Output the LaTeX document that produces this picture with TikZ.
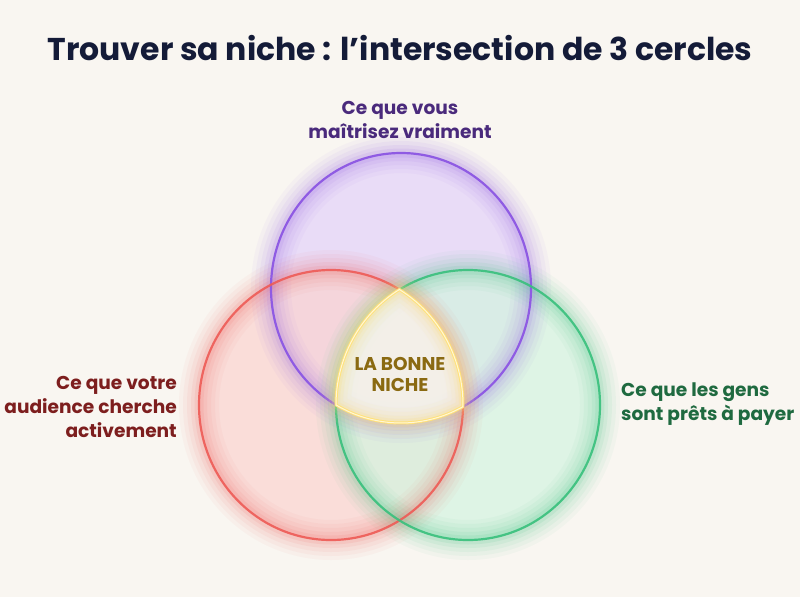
\documentclass[tikz,border=0pt]{standalone}
\usepackage{fontspec}
\setmainfont{Poppins}
\definecolor{bgc}{HTML}{F9F6F1}
\definecolor{titlec}{HTML}{141B38}
\definecolor{pstroke}{HTML}{8F5BE3}
\definecolor{pfill}{HTML}{E4D4FA}
\definecolor{ptext}{HTML}{4A2A7C}
\definecolor{rstroke}{HTML}{EE5B56}
\definecolor{rfill}{HTML}{FBD3D0}
\definecolor{rtext}{HTML}{7D1E1E}
\definecolor{gstroke}{HTML}{38C07C}
\definecolor{gfill}{HTML}{D3F4E0}
\definecolor{gtext}{HTML}{1F6A40}
\definecolor{ystroke}{HTML}{FFE27A}
\definecolor{ytext}{HTML}{8A6A12}
\definecolor{yfill}{HTML}{F7F1EA}
\newcommand\reulpath{(399.5,289.6) arc[start angle=-58.74, end angle=0.70, x radius=132, y radius=135] arc[start angle=61.52, end angle=120, x radius=130, y radius=135] arc[start angle=179.96, end angle=238.74, x radius=132, y radius=135] -- cycle}
\begin{document}
\begin{tikzpicture}[x=1pt,y=-1pt,
  lbl/.style={font=\bfseries\fontsize{18.6}{24}\selectfont, inner sep=0pt},
  pshape/.style={x radius=130, y radius=135},
  rgshape/.style={x radius=132, y radius=135}]
\fill[bgc] (0,0) rectangle (800,597);
\useasboundingbox (0,0) rectangle (800,597);
% fills
\fill[pfill, fill opacity=0.75] (401,288) ellipse[pshape];
\fill[rfill, fill opacity=0.7] (331,405) ellipse[rgshape];
\fill[gfill, fill opacity=0.7] (468,405) ellipse[rgshape];
% glows
\foreach \w/\o in {40/0.04, 32/0.05, 24/0.06, 16/0.08, 9/0.10}{
  \draw[pstroke, line width=\w pt, opacity=\o] (401,288) ellipse[pshape];
  \draw[rstroke, line width=\w pt, opacity=\o] (331,405) ellipse[rgshape];
  \draw[gstroke, line width=\w pt, opacity=\o] (468,405) ellipse[rgshape];
}
% strokes
\draw[pstroke, line width=2.2pt] (401,288) ellipse[pshape];
\draw[rstroke, line width=2.2pt, opacity=0.9] (331,405) ellipse[rgshape];
\draw[gstroke, line width=2.2pt, opacity=0.9] (468,405) ellipse[rgshape];
% centre region
\fill[yfill, fill opacity=0.85] \reulpath;
\foreach \w/\o in {30/0.06, 22/0.08, 14/0.12, 8/0.18}{
  \draw[ystroke, line width=\w pt, opacity=\o, line join=round] \reulpath;
}
\draw[ystroke, line width=3pt, line join=round] \reulpath;
\draw[white, line width=1pt, opacity=0.7, line join=round] \reulpath;
% texts
\node[font=\bfseries\fontsize{31.5}{36}\selectfont, text=titlec, inner sep=0pt] (title) at (400,48) {Trouver sa niche : l’intersection de 3 cercles};
\node[lbl, text=ptext, align=center] (maitrise) at (400,120) {Ce que vous\\maîtrisez vraiment};
\node[lbl, text=rtext, align=right, anchor=east] (audience) at (177,407) {Ce que votre\\audience cherche\\activement};
\node[lbl, text=gtext, align=left, anchor=west] (payer) at (621,404) {Ce que les gens\\sont prêts à payer};
\node[font=\bfseries\fontsize{18.5}{21}\selectfont, text=ytext, align=center, inner sep=0pt] (niche) at (400,374) {LA BONNE\\NICHE};
\end{tikzpicture}
\end{document}
